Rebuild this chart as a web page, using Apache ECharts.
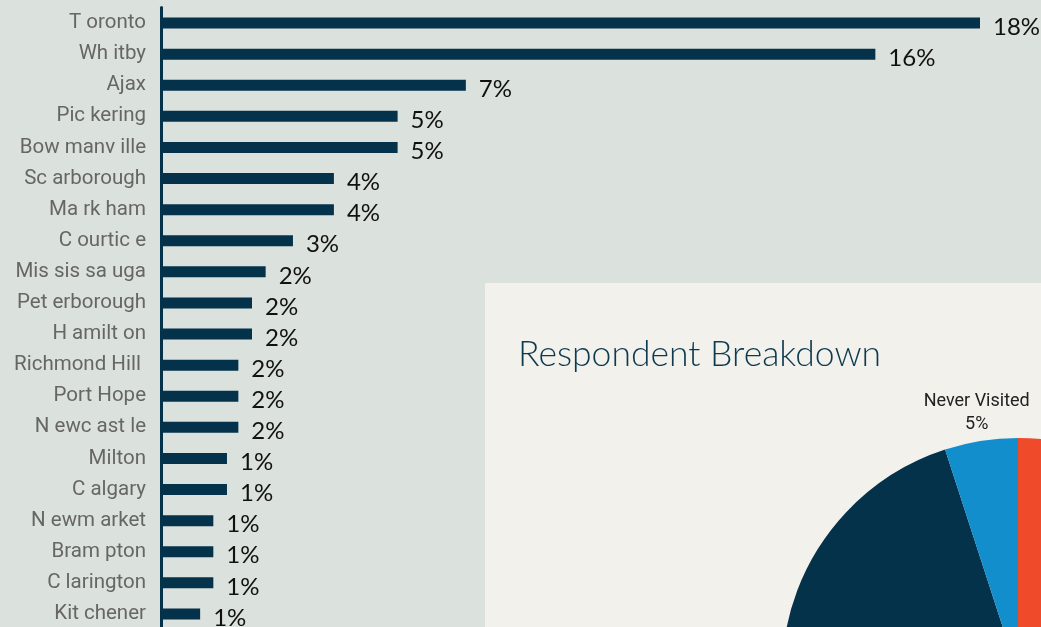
<!DOCTYPE html>
<html>
<head>
<meta charset="utf-8">
<script src="https://cdn.jsdelivr.net/npm/echarts@6/dist/echarts.min.js"></script>
<style>
    html, body { margin: 0; padding: 0; background: #dbe1dd; }
    #chart { width: 1041px; height: 627px; }
</style>
</head>
<body>
<div id="chart"></div>
<script>
// city names as they appear in the picture (odd spacing kept)
const cities = [
    'T oronto', 'Wh itby', 'Ajax', 'Pic kering', 'Bow manv ille', 'Sc arborough',
    'Ma rk ham', 'C ourtic e', 'Mis sis sa uga', 'Pet erborough', 'H amilt on',
    'Richmond Hill ', 'Port Hope', 'N ewc ast le', 'Milton', 'C algary',
    'N ewm arket', 'Bram pton', 'C larington', 'Kit chener'
];
// share of respondents, %
const cityShare = [
    18.0, 15.7, 6.7, 5.2, 5.2, 3.8, 3.8, 2.9, 2.3, 2.0,
    2.0, 1.7, 1.7, 1.7, 1.45, 1.45, 1.15, 1.15, 1.15, 0.86
];

const breakdownNames = ['Visited', 'Regular Visitor', 'Never Visited'];
const breakdownValues = [62, 33, 5];
const breakdownColors = ['#ef4a2a', '#03324a', '#128ecd'];

var myChart = echarts.init(document.getElementById('chart'));

myChart.setOption({
    backgroundColor: '#dbe1dd',
    animation: false,
    title: {
        text: 'Respondent Breakdown',
        left: 513,
        top: 332,
        textStyle: {
            fontFamily: 'Lato',
            fontWeight: 300,
            fontSize: 35.5,
            color: '#0e3a50'
        }
    },
    graphic: [
        {
            type: 'rect',
            z: -10,
            left: 485,
            top: 283,
            shape: { width: 600, height: 400 },
            style: { fill: '#f2f1ec' }
        }
    ],
    grid: {
        left: 161,
        top: 7.5,
        width: 910,
        height: 622,
        outerBoundsMode: 'none'
    },
    xAxis: {
        type: 'value',
        min: 0,
        max: 20,
        show: false
    },
    yAxis: {
        type: 'category',
        inverse: true,
        data: cities,
        axisLine: { lineStyle: { color: '#03324a', width: 3 } },
        axisTick: { show: false },
        axisLabel: {
            margin: 15,
            fontFamily: 'Roboto',
            fontSize: 20.5,
            color: '#666666'
        }
    },
    series: [
        {
            type: 'bar',
            data: cityShare,
            barWidth: 11,
            itemStyle: { color: '#03324a' },
            label: {
                show: true,
                position: 'right',
                distance: 13,
                offset: [0, 4],
                fontFamily: 'Lato',
                fontSize: 24,
                color: '#111111',
                formatter: p => Math.round(p.value) + '%'
            }
        },
        {
            type: 'pie',
            center: [1018, 674],
            radius: 236,
            startAngle: 90,
            clockwise: true,
            silent: true,
            data: breakdownNames.map((n, i) => ({
                name: n,
                value: breakdownValues[i],
                itemStyle: { color: breakdownColors[i] },
                label: { show: n === 'Never Visited' }
            })),
            label: {
                position: 'outside',
                distanceToLabelLine: 0,
                fontFamily: 'Roboto',
                fontSize: 18,
                lineHeight: 23,
                color: '#222222',
                formatter: p => p.name + '\n' + Math.round(p.percent) + '%'
            },
            labelLine: { show: false, length: 28, length2: 0 },
            labelLayout: { align: 'center' }
        }
    ]
});
</script>
</body>
</html>
